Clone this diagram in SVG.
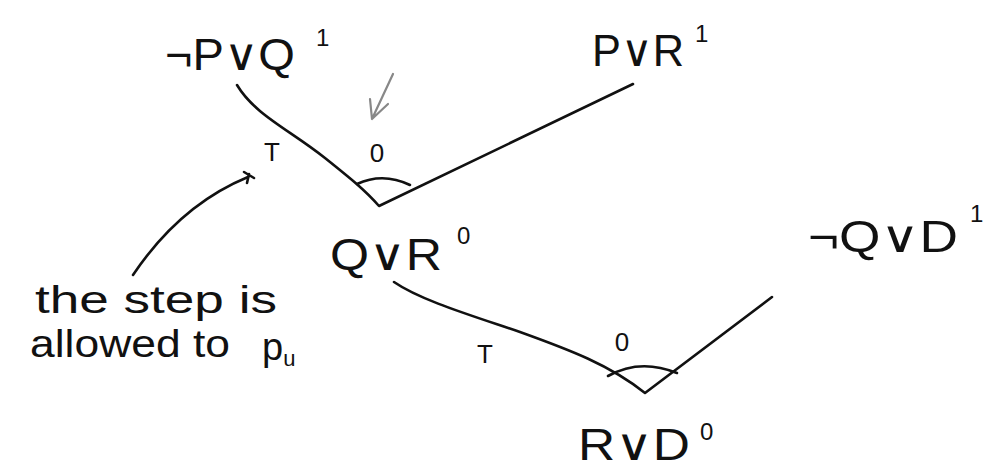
<svg xmlns="http://www.w3.org/2000/svg" width="986" height="468" viewBox="0 0 986 468">
<style>
.f{font-family:"Liberation Sans","DejaVu Sans",sans-serif;fill:#111}
.n{font-size:44px}
.s{font-size:24px}
.l{font-size:26px}
.a{font-size:38px}
.e{fill:none;stroke:#111;stroke-width:2.6;stroke-linecap:round;stroke-linejoin:round}
</style>
<rect width="986" height="468" fill="#fff"/>
<g id="connectors">
<path class="e" d="M237,85 C255,115 290,130 325,158 C350,178 365,190 379,206 L633,84"/>
<path class="e" d="M357,184 Q383,172 410,185"/>
<path class="e" d="M394,282 C420,300 470,315 520,332 C570,350 610,365 645,393 L772,297"/>
<path class="e" d="M608,376 Q640,358 677,373"/>
<path class="e" d="M133,275 Q180,205 248,177"/>
<path class="e" d="M244,172 L254,178 M249,174 L247,183" stroke-width="2"/>
<path fill="none" stroke="#888" stroke-width="2.2" stroke-linecap="round" d="M393,74 L372,119 M372,119 L370,99 M372,119 L388,104"/>
</g>
<g id="n1"><text class="f n" x="165" y="70" textLength="130" lengthAdjust="spacingAndGlyphs">¬P∨Q</text><text class="f s" x="316" y="46">1</text></g>
<g id="n2"><text class="f n" x="592" y="66" textLength="92" lengthAdjust="spacingAndGlyphs">P∨R</text><text class="f s" x="695" y="42">1</text></g>
<g id="n3"><text class="f n" x="330" y="270" textLength="112" lengthAdjust="spacingAndGlyphs">Q∨R</text><text class="f s" x="457" y="244">0</text></g>
<g id="n4"><text class="f n" x="808" y="252" textLength="150" lengthAdjust="spacingAndGlyphs">¬Q∨D</text><text class="f s" x="970" y="222">1</text></g>
<g id="n5"><text class="f n" x="578" y="460" textLength="112" lengthAdjust="spacingAndGlyphs">R∨D</text><text class="f s" x="700" y="440">0</text></g>
<g id="labels">
<text class="f l" x="272" y="161" text-anchor="middle">T</text>
<text class="f l" x="377" y="162" text-anchor="middle">0</text>
<text class="f l" x="485" y="363" text-anchor="middle">T</text>
<text class="f l" x="622" y="351" text-anchor="middle">0</text>
</g>
<g id="note">
<text class="f a" x="35" y="313" textLength="242" lengthAdjust="spacingAndGlyphs">the step is</text>
<text class="f a" x="30" y="357" textLength="200" lengthAdjust="spacingAndGlyphs">allowed to</text>
<text class="f a" x="262" y="360">p<tspan font-size="22" dy="6">u</tspan></text>
</g>
</svg>
